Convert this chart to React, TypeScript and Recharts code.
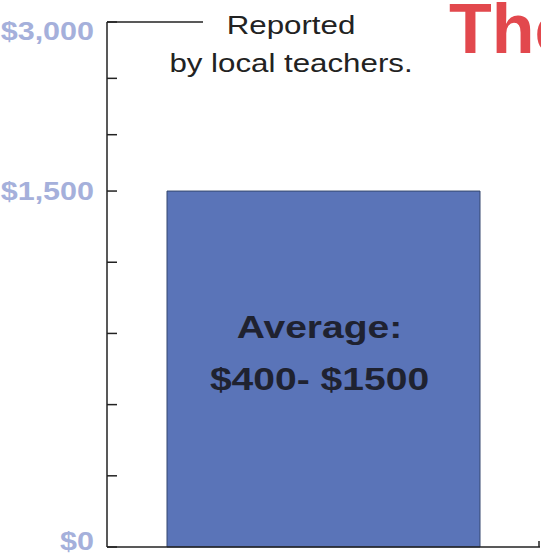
import { Bar, BarChart, LabelList, XAxis, YAxis } from "recharts";

const categories = ["Reported by local teachers"];
const costValues = [1500];
const tickValues = [0, 300, 600, 900, 1200, 1500, 2000, 2500, 3000];
const labeledTicks = [0, 1500, 3000];
const barLines = ["Average:", "$400- $1500"];
const noteLines = ["Reported", "by local teachers."];
const headline = "The";

// the picture's axis is split: 0-1500 gets most of the height, 1500-3000 is squeezed
const BREAK = 1500;
const MAX = 3000;
const LOWER_SHARE = 0.678;

function toAxis(v: number) {
  if (v <= BREAK) return (v / BREAK) * LOWER_SHARE;
  return LOWER_SHARE + ((v - BREAK) / (MAX - BREAK)) * (1 - LOWER_SHARE);
}

const data = categories.map((name, i) => ({
  name,
  cost: costValues[i],
  pos: toAxis(costValues[i]),
}));

const tickPositions = tickValues.map(toAxis);
const FONT = '"Liberation Sans", Arial, sans-serif';

function money(v: number) {
  return "$" + v.toLocaleString("en-US");
}

function YTick(props: any) {
  const { x, y, index } = props;
  const value = tickValues[index];
  const px = Number(x);
  const py = Number(y);
  const showLabel = labeledTicks.includes(value);
  // keep the end labels inside the chart box
  const cy = Math.min(Math.max(py, 31), 541);
  return (
    <g>
      <line x1={px} x2={px + 10} y1={py} y2={py} stroke="#222" strokeWidth={1.5} />
      {showLabel && (
        <g transform={`translate(${px - 13},${cy}) scale(1.22,1)`}>
          <text
            x={0}
            y={0}
            dy={9}
            textAnchor="end"
            fontFamily={FONT}
            fontWeight="bold"
            fontSize={25}
            fill="#a5b0db"
          >
            {money(value)}
          </text>
        </g>
      )}
    </g>
  );
}

function BarText(props: any) {
  const x = Number(props.x);
  const y = Number(props.y);
  const w = Number(props.width);
  const h = Number(props.height);
  const cx = x + w / 2;
  const first = y + h * 0.413;
  return (
    <g transform={`translate(${cx - 4},0) scale(1.22,1)`}>
      {barLines.map((line, i) => (
        <text
          key={line}
          x={0}
          y={first + i * 52}
          textAnchor="middle"
          fontFamily={FONT}
          fontWeight="bold"
          fontSize={32}
          fill="#1f2230"
        >
          {line}
        </text>
      ))}
    </g>
  );
}

export default function App() {
  return (
    <div style={{ position: "absolute", left: 0, top: 0, width: 541, height: 556, background: "#fff" }}>
      <BarChart
        width={541}
        height={556}
        data={data}
        margin={{ top: 22, right: 1, bottom: 0, left: 0 }}
      >
        <XAxis
          dataKey="name"
          height={9}
          tick={false}
          tickLine={false}
          axisLine={{ stroke: "#222", strokeWidth: 1.5 }}
        />
        <YAxis
          type="number"
          domain={[0, 1]}
          ticks={tickPositions}
          interval={0}
          width={107}
          tickSize={0}
          tickMargin={0}
          tickLine={false}
          axisLine={{ stroke: "#222", strokeWidth: 1.5 }}
          tick={<YTick />}
        />
        <Bar
          dataKey="pos"
          barSize={313}
          fill="#5a74b8"
          stroke="#34476e"
          strokeWidth={1}
          isAnimationActive={false}
        >
          <LabelList dataKey="cost" content={<BarText />} />
        </Bar>
      </BarChart>
      <svg
        width={541}
        height={556}
        style={{ position: "absolute", left: 0, top: 0, pointerEvents: "none" }}
      >
        <line x1={107} x2={203} y1={22} y2={22} stroke="#222" strokeWidth={1.5} />
        <line x1={539} x2={539} y1={541} y2={547} stroke="#222" strokeWidth={1.5} />
        <g transform="translate(291,0) scale(1.18,1)">
          {noteLines.map((line, i) => (
            <text
              key={line}
              x={0}
              y={34 + i * 38}
              textAnchor="middle"
              fontFamily={FONT}
              fontSize={26.5}
              fill="#222"
            >
              {line}
            </text>
          ))}
        </g>
        <text x={449} y={53} fontFamily={FONT} fontWeight="bold" fontSize={70} fill="#e2484d">
          {headline}
        </text>
      </svg>
    </div>
  );
}
